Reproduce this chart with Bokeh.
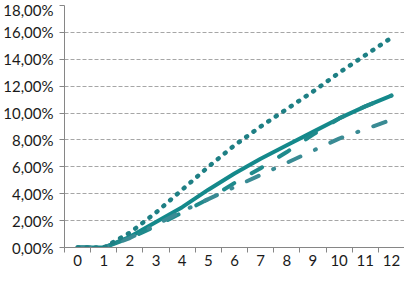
from bokeh.plotting import figure
from bokeh.models import FixedTicker, CustomJSTickFormatter, Range1d
from bokeh.embed import file_html
from bokeh.resources import INLINE

x = [0, 1, 2, 3, 4, 5, 6, 7, 8, 9, 10, 11, 12]
x_labels = [str(v) for v in x]
solid = [0, 0, 0.8, 1.9, 3.0, 4.3, 5.5, 6.6, 7.6, 8.6, 9.6, 10.5, 11.3]
dashed = [0, 0, 0.7, 1.6, 2.6, 3.6, 4.8, 5.9, 7.1, 8.4, 9.6, 10.5, 11.3]
dashdot = [0, 0, 0.7, 1.7, 2.7, 3.6, 4.5, 5.4, 6.3, 7.2, 8.1, 8.8, 9.5]
dotted = [0, 0, 1.1, 2.6, 4.3, 6.0, 7.6, 9.0, 10.3, 11.6, 13.0, 14.3, 15.6]
y_ticks = [0, 2, 4, 6, 8, 10, 12, 14, 16, 18]

p = figure(width=404, height=268, output_backend="svg", toolbar_location=None,
           x_range=Range1d(-0.5, 12.5), y_range=Range1d(0, 18),
           min_border_left=54, min_border_right=0, min_border_top=5, min_border_bottom=21)
p.outline_line_color = None
p.background_fill_color = "white"

font = "Lato"
# x axis
p.xaxis.ticker = FixedTicker(ticks=x, minor_ticks=[v - 0.5 for v in x] + [12.5])
p.xaxis.major_label_overrides = {v: l for v, l in zip(x, x_labels)}
p.xaxis.major_tick_line_alpha = 0
p.xaxis.major_tick_out = 5
p.xaxis.major_tick_in = 0
p.xaxis.minor_tick_out = 5
p.xaxis.minor_tick_in = 0
p.xaxis.minor_tick_line_color = "#868686"
p.xaxis.axis_line_color = "#868686"
p.xaxis.major_label_standoff = 2
p.xaxis.major_label_text_font = font
p.xaxis.major_label_text_font_size = "15px"
p.xaxis.major_label_text_color = "#1a1a1a"

# y axis
p.yaxis.ticker = FixedTicker(ticks=y_ticks, minor_ticks=[])
p.yaxis.formatter = CustomJSTickFormatter(code="return tick.toFixed(2).replace('.', ',') + '%';")
p.yaxis.major_tick_out = 5
p.yaxis.major_tick_in = 0
p.yaxis.major_tick_line_color = "#868686"
p.yaxis.axis_line_color = "#868686"
p.yaxis.major_label_standoff = 6
p.yaxis.major_label_text_font = font
p.yaxis.major_label_text_font_size = "15px"
p.yaxis.major_label_text_color = "#1a1a1a"

p.xgrid.grid_line_color = None
p.ygrid.ticker = FixedTicker(ticks=y_ticks[1:])
p.ygrid.grid_line_color = "#A6A6A6"
p.ygrid.grid_line_dash = "4 2"
p.ygrid.grid_line_width = 1

p.line(x, solid, line_color="#14898B", line_width=4, line_cap="round")
p.line(x, dashed, line_color="#1F8A8C", line_width=4, line_dash="12 20", line_cap="round")
p.line(x, dashdot, line_color="#3A8B94", line_width=4, line_dash="13 16 1 16", line_cap="round")
p.line(x, dotted, line_color="#1E7F84", line_width=4.5, line_dash="1 8", line_cap="round")

open("out.html", "w").write(file_html(p, INLINE))
